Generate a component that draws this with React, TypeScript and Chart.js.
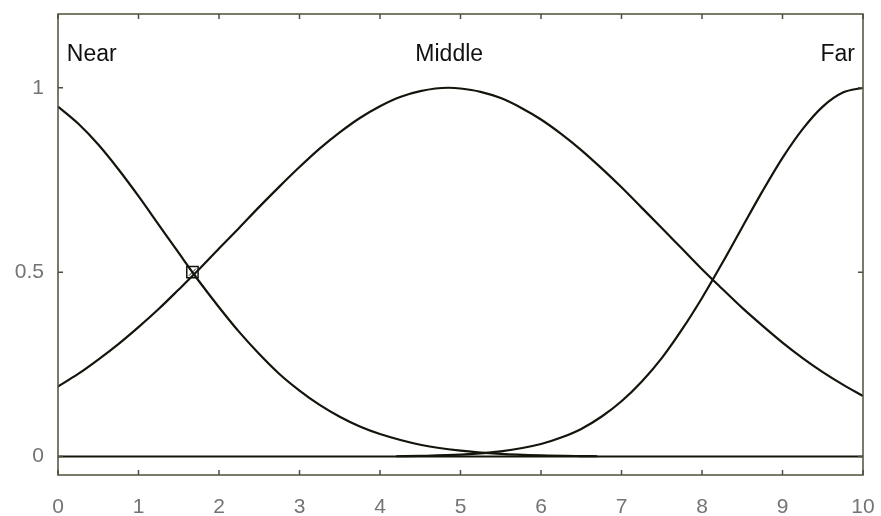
import React, { useEffect, useRef } from "react";
import { Chart, registerables } from "chart.js";

Chart.register(...registerables);

// Membership functions: distance categories
const nearX = [0, 0.25, 0.5, 0.75, 1, 1.25, 1.5, 1.75, 2, 2.25, 2.5, 2.75, 3, 3.25, 3.5, 3.75, 4, 4.5, 5, 5.5, 6, 6.5, 6.7];
const nearY = [0.949, 0.903, 0.846, 0.779, 0.706, 0.629, 0.552, 0.476, 0.405, 0.338, 0.278, 0.224, 0.179, 0.14, 0.108, 0.0814, 0.061, 0.032, 0.016, 0.0074, 0.0032, 0.0013, 0.0009];

const middleX = [0, 0.25, 0.5, 0.75, 1, 1.25, 1.5, 1.75, 2, 2.25, 2.5, 2.75, 3, 3.25, 3.5, 3.75, 4, 4.25, 4.5, 4.85, 5, 5.25, 5.5, 5.75, 6, 6.25, 6.5, 6.75, 7, 7.25, 7.5, 7.75, 8, 8.25, 8.5, 8.75, 9, 9.25, 9.5, 9.75, 10];
const middleY = [0.19, 0.224, 0.263, 0.305, 0.351, 0.4, 0.453, 0.507, 0.564, 0.62, 0.677, 0.732, 0.785, 0.835, 0.879, 0.918, 0.95, 0.975, 0.991, 1.0, 0.998, 0.989, 0.972, 0.946, 0.914, 0.875, 0.831, 0.782, 0.73, 0.675, 0.62, 0.564, 0.508, 0.455, 0.403, 0.355, 0.309, 0.267, 0.229, 0.195, 0.164];

const farX = [4.2, 4.5, 5, 5.5, 6, 6.25, 6.5, 6.75, 7, 7.25, 7.5, 7.75, 8, 8.25, 8.5, 8.75, 9, 9.25, 9.5, 9.75, 10];
const farY = [0.0008, 0.0017, 0.0051, 0.014, 0.034, 0.0515, 0.075, 0.108, 0.15, 0.203, 0.267, 0.344, 0.43, 0.524, 0.622, 0.719, 0.81, 0.888, 0.949, 0.987, 1.0];

const baseX = [0, 10];
const baseY = [0, 0];

// Highlighted intersection of Near and Middle
const markX = [1.67];
const markY = [0.5];

// Category names and their anchor points
const labelTexts = ["Near", "Middle", "Far"];
const labelX = [0.11, 4.86, 9.9];
const labelY = [1.073, 1.073, 1.073];
const labelAlign: CanvasTextAlign[] = ["left", "center", "right"];

const xTicks = [0, 1, 2, 3, 4, 5, 6, 7, 8, 9, 10];
const yTicks = [0, 0.5, 1];

const CURVE = "#14140c";
const AXIS = "#4f4f3a";
const FONT = "'Liberation Sans', Arial, sans-serif";

const pts = (xs: number[], ys: number[]) => xs.map((x, i) => ({ x, y: ys[i] }));

const boxPlugin = {
  id: "boxAndLabels",
  afterDraw(chart: any) {
    const { ctx, chartArea: a, scales } = chart;
    const xs = scales.x;
    const ys = scales.y;
    ctx.save();
    ctx.strokeStyle = AXIS;
    ctx.lineWidth = 1.5;
    ctx.strokeRect(a.left, a.top, a.right - a.left, a.bottom - a.top);
    const tl = 5;
    ctx.beginPath();
    xTicks.forEach((v) => {
      const px = xs.getPixelForValue(v);
      ctx.moveTo(px, a.bottom);
      ctx.lineTo(px, a.bottom - tl);
      ctx.moveTo(px, a.top);
      ctx.lineTo(px, a.top + tl);
    });
    yTicks.forEach((v) => {
      const py = ys.getPixelForValue(v);
      ctx.moveTo(a.left, py);
      ctx.lineTo(a.left + tl, py);
      ctx.moveTo(a.right, py);
      ctx.lineTo(a.right - tl, py);
    });
    ctx.stroke();

    ctx.fillStyle = "#111111";
    ctx.font = `23px ${FONT}`;
    ctx.textBaseline = "alphabetic";
    labelTexts.forEach((t, i) => {
      ctx.textAlign = labelAlign[i];
      ctx.fillText(t, xs.getPixelForValue(labelX[i]), ys.getPixelForValue(labelY[i]));
    });
    ctx.restore();
  },
};

const noPad = (s: any) => {
  s.paddingTop = 0;
  s.paddingBottom = 0;
  s.paddingLeft = 0;
  s.paddingRight = 0;
};

export default function App() {
  const ref = useRef<HTMLCanvasElement | null>(null);

  useEffect(() => {
    if (!ref.current) return;
    const line = (data: any[], width = 2.2) => ({
      type: "line" as const,
      data,
      borderColor: CURVE,
      borderWidth: width,
      pointRadius: 0,
      fill: false,
      cubicInterpolationMode: "monotone" as const,
    });
    const chart = new Chart(ref.current, {
      type: "line",
      data: {
        datasets: [
          line(pts(baseX, baseY), 2),
          line(pts(nearX, nearY)),
          line(pts(middleX, middleY)),
          line(pts(farX, farY)),
          {
            type: "line",
            data: pts(markX, markY),
            showLine: false,
            pointStyle: "rect",
            pointRadius: 8,
            pointBorderWidth: 1.5,
            pointBorderColor: CURVE,
            pointBackgroundColor: "rgba(0,0,0,0)",
          },
          {
            type: "line",
            data: pts(markX, markY),
            showLine: false,
            pointStyle: "crossRot",
            pointRadius: 5,
            pointBorderWidth: 1,
            pointBorderColor: CURVE,
          },
        ],
      },
      options: {
        responsive: false,
        animation: false,
        events: [],
        layout: { padding: { top: 14, right: 18, left: 0, bottom: 0 } },
        plugins: {
          legend: { display: false },
          tooltip: { enabled: false },
        },
        scales: {
          x: {
            type: "linear",
            min: 0,
            max: 10,
            afterFit: (s: any) => {
              s.height = 41;
              noPad(s);
            },
            grid: { display: false, drawTicks: false },
            border: { display: false },
            ticks: {
              stepSize: 1,
              padding: 20,
              color: "#747474",
              font: { family: FONT, size: 21 },
              maxRotation: 0,
              callback: (v: any) => String(v),
            },
          },
          y: {
            type: "linear",
            min: -0.05,
            max: 1.2,
            afterFit: (s: any) => {
              s.width = 58;
              noPad(s);
            },
            grid: { display: false, drawTicks: false },
            border: { display: false },
            ticks: {
              stepSize: 0.5,
              includeBounds: false,
              padding: 14,
              color: "#747474",
              font: { family: FONT, size: 21 },
              callback: (v: any) => String(v),
            },
          },
        },
      },
      plugins: [boxPlugin],
    });
    return () => chart.destroy();
  }, []);

  return (
    <div style={{ position: "absolute", left: 0, top: 0, width: 881, height: 516, background: "#ffffff" }}>
      <canvas ref={ref} width={881} height={516} style={{ display: "block" }} />
    </div>
  );
}
